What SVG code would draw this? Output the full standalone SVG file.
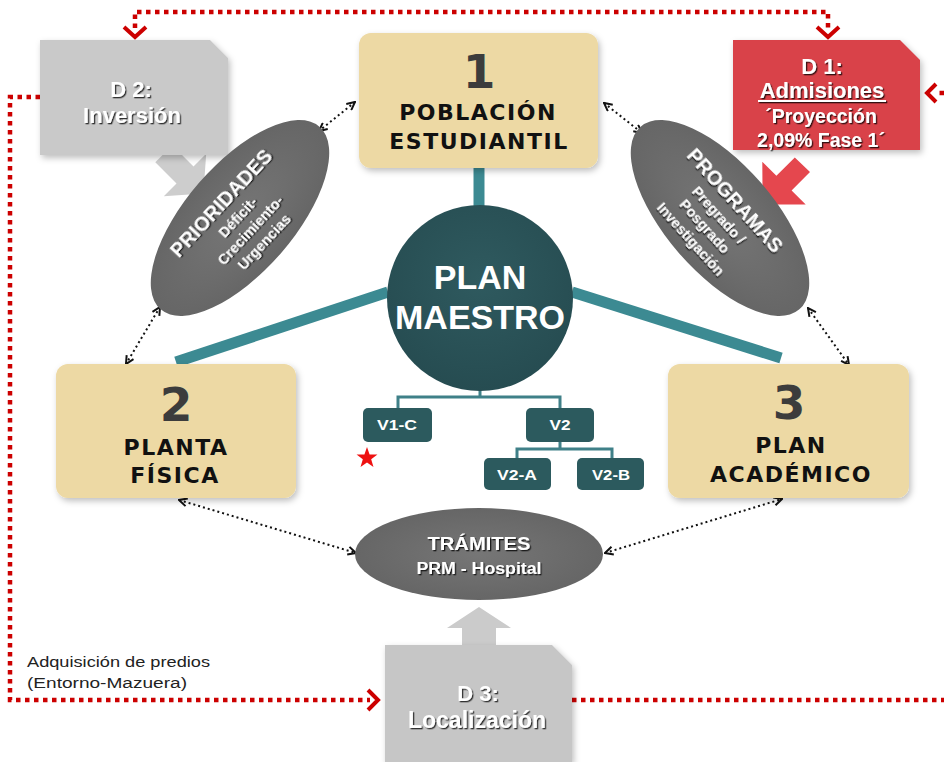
<svg xmlns="http://www.w3.org/2000/svg" width="944" height="762" viewBox="0 0 944 762">
<defs>
<style>
.box{fill:#EDD9A4;}
.num{font-family:"DejaVu Sans",Verdana,sans-serif;font-weight:bold;fill:#3c3c3c;text-anchor:middle;font-size:47px;}
.ttl{font-family:"DejaVu Sans",Verdana,sans-serif;font-weight:bold;fill:#111;text-anchor:middle;font-size:22px;letter-spacing:1.5px;}
.wt{font-family:"Liberation Sans",Arial,sans-serif;font-weight:bold;fill:#fff;text-anchor:middle;}
.bar{stroke:#3C8A92;stroke-width:11;fill:none;}
.tree{stroke:#3F8088;stroke-width:3;fill:none;}
.vn{fill:#2C5A5E;}
.ell{fill:url(#eg);}
.red{stroke:#CC0000;stroke-width:4.5;fill:none;stroke-dasharray:4.5 4.5;}
.chev{stroke:#CC0000;stroke-width:4;fill:none;stroke-linejoin:miter;}
.dot{stroke:#111;stroke-width:2;fill:none;stroke-dasharray:2 3;marker-start:url(#ah);marker-end:url(#ah);}
.note{font-family:"Liberation Sans",Arial,sans-serif;font-size:14px;fill:#222;}
</style>
<radialGradient id="eg" cx="50%" cy="50%" r="50%">
<stop offset="0" stop-color="#767676"/>
<stop offset="1" stop-color="#666666"/>
</radialGradient>
<radialGradient id="cg" cx="50%" cy="40%" r="60%">
<stop offset="0" stop-color="#2f5a5f"/>
<stop offset="1" stop-color="#264c51"/>
</radialGradient>
<filter id="sh" x="-10%" y="-10%" width="130%" height="130%">
<feDropShadow dx="2" dy="3" stdDeviation="3" flood-color="#000" flood-opacity="0.25"/>
</filter>
<filter id="ts" x="-10%" y="-20%" width="130%" height="160%">
<feDropShadow dx="1.3" dy="1.3" stdDeviation="0.7" flood-color="#000" flood-opacity="0.75"/>
</filter>
<marker id="ah" viewBox="0 0 10 10" refX="9" refY="5" markerWidth="10" markerHeight="10" markerUnits="userSpaceOnUse" orient="auto-start-reverse">
<path d="M1,1 L9,5 L1,9" fill="none" stroke="#111" stroke-width="2"/>
</marker>
</defs>
<rect width="944" height="762" fill="#fff"/>

<g id="connectors">
<path class="red" d="M135,28 V12 H828 V28"/>
<path class="chev" d="M124,27 L135,37 L146,27"/>
<path class="chev" d="M817,27 L828,37 L839,27"/>
<path class="red" d="M40,97 H10 V700 H370"/>
<path class="chev" d="M368,690 L378,700 L368,710"/>
<path class="red" d="M572,700 H944"/>
<path class="red" d="M944,93 H935"/>
<path class="chev" d="M936,84 L927,93 L936,102"/>
<line class="dot" x1="355" y1="102" x2="319" y2="131"/>
<line class="dot" x1="604" y1="103" x2="642" y2="133"/>
<line class="dot" x1="160" y1="307" x2="126" y2="364"/>
<line class="dot" x1="808" y1="308" x2="849" y2="365"/>
<line class="dot" x1="179" y1="500" x2="356" y2="553"/>
<line class="dot" x1="605" y1="553" x2="782" y2="499"/>
<line class="bar" x1="479" y1="165" x2="479" y2="210"/>
<line class="bar" x1="388" y1="292" x2="176" y2="362"/>
<line class="bar" x1="572" y1="292" x2="781" y2="358"/>
<path class="tree" d="M480,388 V397 M398,408 V397 H560 V408 M560,442 V449 M517,458 V449 H612 V458"/>
<polygon points="172.3,145.3 193.5,166.5 206.2,153.8 203.4,193.4 163.8,196.2 176.5,183.5 155.3,162.3" fill="#cdcdcd"/>
<polygon points="810,172 791.6,190.4 805.7,204.5 762.6,204.4 762.3,161.7 776.4,175.8 794.8,157.4" fill="#E5474E"/>
<polygon points="479,607 511,628 496,628 496,646 462,646 462,628 447,628" fill="#cbcbcb"/>
</g>

<g id="d2">
<polygon points="40,40 210,40 228,58 228,155 40,155" fill="#c9c9c9" filter="url(#sh)"/>
<g filter="url(#ts)">
<text class="wt" x="131" y="97" font-size="22">D 2:</text>
<text class="wt" x="132" y="123" font-size="22">Inversión</text>
</g>
</g>

<g id="d1">
<polygon points="733,40 900,40 920,60 920,150 733,150" fill="#D9434A" filter="url(#sh)"/>
<g filter="url(#ts)">
<text class="wt" x="822" y="74" font-size="22">D 1:</text>
<text class="wt" x="822" y="98" font-size="22">Admisiones</text>
<line x1="758" y1="101" x2="886" y2="101" stroke="#fff" stroke-width="2"/>
<text class="wt" x="821" y="123" font-size="19.5">´Proyección</text>
<text class="wt" x="821" y="147" font-size="19.5">2,09% Fase 1´</text>
</g>
</g>

<g id="d3">
<polygon points="385,645 552,645 572,665 572,762 385,762" fill="#c6c6c6" filter="url(#sh)"/>
<g filter="url(#ts)">
<text class="wt" x="478" y="701" font-size="22">D 3:</text>
<text class="wt" x="477" y="728" font-size="23">Localización</text>
</g>
</g>

<g id="prioridades">
<ellipse class="ell" cx="0" cy="0" rx="121" ry="54" transform="translate(240,218) rotate(-49)"/>
<g transform="translate(240,218) rotate(-47)" filter="url(#ts)">
<text class="wt" x="-2" y="-17" font-size="20">PRIORIDADES</text>
<text class="wt" x="-1" y="3" font-size="14.5">Déficit-</text>
<text class="wt" x="-2" y="21" font-size="14.5">Crecimiento-</text>
<text class="wt" x="-1" y="39" font-size="14.5">Urgencias</text>
</g>
</g>

<g id="programas">
<ellipse class="ell" cx="0" cy="0" rx="121" ry="54" transform="translate(720,218) rotate(49)"/>
<g transform="translate(720,218) rotate(48)" filter="url(#ts)">
<text class="wt" x="-3" y="-16" font-size="20">PROGRAMAS</text>
<text class="wt" x="-3" y="4" font-size="14.5">Pregrado /</text>
<text class="wt" x="-4" y="22" font-size="14.5">Posgrado</text>
<text class="wt" x="-4" y="41" font-size="14.5">Investigación</text>
</g>
</g>

<g id="tramites">
<ellipse class="ell" cx="479" cy="554" rx="124" ry="46"/>
<g filter="url(#ts)">
<text class="wt" x="479" y="550" font-size="17.5" textLength="103" lengthAdjust="spacingAndGlyphs">TRÁMITES</text>
<text class="wt" x="479" y="574" font-size="16" textLength="125" lengthAdjust="spacingAndGlyphs">PRM - Hospital</text>
</g>
</g>

<g id="poblacion">
<rect class="box" x="359" y="33" width="239" height="135" rx="12" filter="url(#sh)"/>
<text class="num" x="479" y="88">1</text>
<text class="ttl" x="478" y="120">POBLACIÓN</text>
<text class="ttl" x="479" y="149">ESTUDIANTIL</text>
</g>

<g id="planta">
<rect class="box" x="56" y="364" width="240" height="134" rx="12" filter="url(#sh)"/>
<text class="num" x="176" y="421">2</text>
<text class="ttl" x="176" y="455">PLANTA</text>
<text class="ttl" x="175" y="483">FÍSICA</text>
</g>

<g id="academico">
<rect class="box" x="668" y="364" width="241" height="134" rx="12" filter="url(#sh)"/>
<text class="num" x="789" y="419">3</text>
<text class="ttl" x="791" y="453">PLAN</text>
<text class="ttl" x="791" y="482">ACADÉMICO</text>
</g>

<g id="plan-maestro">
<circle cx="480" cy="298" r="93" fill="url(#cg)"/>
<text class="wt" x="480" y="289" font-size="34">PLAN</text>
<text class="wt" x="480" y="329" font-size="34">MAESTRO</text>
</g>

<g id="v1c">
<rect class="vn" x="363" y="408" width="69" height="34" rx="5"/>
<text class="wt" x="397" y="430" font-size="15" textLength="40" lengthAdjust="spacingAndGlyphs">V1-C</text>
</g>
<g id="v2">
<rect class="vn" x="526" y="408" width="68" height="34" rx="5"/>
<text class="wt" x="560" y="430" font-size="15" textLength="21" lengthAdjust="spacingAndGlyphs">V2</text>
</g>
<g id="v2a">
<rect class="vn" x="484" y="458" width="67" height="32" rx="5"/>
<text class="wt" x="517" y="480" font-size="15" textLength="40" lengthAdjust="spacingAndGlyphs">V2-A</text>
</g>
<g id="v2b">
<rect class="vn" x="577" y="458" width="67" height="32" rx="5"/>
<text class="wt" x="611" y="480" font-size="15" textLength="38" lengthAdjust="spacingAndGlyphs">V2-B</text>
</g>

<g id="star">
<polygon points="367,447 369.59,454.44 377.46,454.6 371.18,459.36 373.47,466.9 367,462.4 360.53,466.9 362.82,459.36 356.54,454.6 364.41,454.44" fill="#EE1111"/>
</g>

<g id="nota">
<text class="note" x="27" y="667" textLength="183" lengthAdjust="spacingAndGlyphs">Adquisición de predios</text>
<text class="note" x="27" y="688" textLength="160" lengthAdjust="spacingAndGlyphs">(Entorno-Mazuera)</text>
</g>
</svg>
